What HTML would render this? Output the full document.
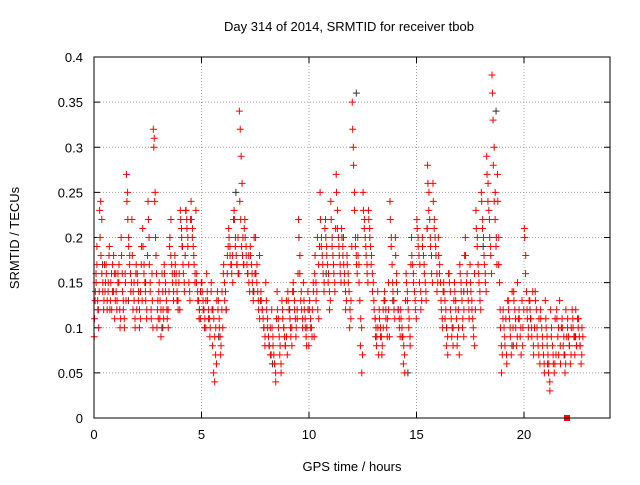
<!DOCTYPE html>
<html><head><meta charset="utf-8"><style>
body{margin:0;background:#fff}
svg text{font-family:"Liberation Sans","DejaVu Sans",sans-serif;font-size:13px;fill:#000}
</style></head><body>
<svg id="chart" width="640" height="480" viewBox="0 0 640 480" xmlns="http://www.w3.org/2000/svg">
<rect width="640" height="480" fill="#fff"/>
<text x="349" y="31" text-anchor="middle">Day 314 of 2014, SRMTID for receiver tbob</text>
<text x="352" y="471" text-anchor="middle">GPS time / hours</text>
<text transform="translate(19,238) rotate(-90)" text-anchor="middle">SRMTID / TECUs</text>
<g id="grid"></g>
<g id="ticks"></g>
<g id="darkPts"></g>
<g id="redPts"></g>
<rect x="94" y="57" width="516" height="361" fill="none" stroke="#000" stroke-width="1"/>
</svg>
<script>
const xTicks=[0,5,10,15,20];
const yTicks=[0,0.05,0.1,0.15,0.2,0.25,0.3,0.35,0.4];
const yTickLabels=["0","0.05","0.1","0.15","0.2","0.25","0.3","0.35","0.4"];
const binHours=0.25;
const redBins=[
[0.09,0.13,0.16,0.19,0.12,0.1],[0.23,0.24,0.22,0.15,0.13],[0.14,0.17,0.12,0.15,0.19],[0.13,0.16,0.14,0.18,0.11],
[0.16,0.12,0.15,0.17,0.1],[0.2,0.16,0.13,0.1,0.15],[0.27,0.25,0.2,0.18,0.14],[0.22,0.12,0.15,0.1,0.17],
[0.16,0.13,0.1,0.14,0.19],[0.21,0.17,0.14,0.12],[0.24,0.2,0.15,0.11,0.13],[0.32,0.31,0.25,0.18,0.1,0.13],
[0.14,0.11,0.09,0.16,0.12],[0.17,0.14,0.12,0.1],[0.19,0.22,0.16,0.14],[0.18,0.15,0.13,0.12,0.16],
[0.23,0.2,0.17,0.14],[0.23,0.22,0.2,0.15,0.13],[0.24,0.21,0.18,0.16],[0.15,0.13,0.11,0.14],
[0.15,0.12,0.1,0.13],[0.14,0.11,0.09,0.15],[0.08,0.05,0.04,0.1,0.13],[0.12,0.1,0.07,0.14],
[0.16,0.13,0.12,0.18],[0.21,0.18,0.17,0.15],[0.23,0.2,0.17,0.16],[0.34,0.32,0.29,0.26,0.2,0.17],
[0.22,0.18,0.16,0.15],[0.19,0.16,0.14],[0.2,0.17,0.13,0.11],[0.14,0.12,0.1,0.09],
[0.13,0.1,0.08,0.07],[0.12,0.08,0.06,0.04],[0.14,0.1,0.07,0.05],[0.12,0.1,0.08,0.09],
[0.14,0.12,0.1,0.08],[0.15,0.12,0.09,0.11],[0.22,0.18,0.14,0.11],[0.13,0.1,0.08,0.12],
[0.12,0.1,0.09,0.14],[0.16,0.13,0.2,0.11],[0.25,0.2,0.17,0.15],[0.22,0.18,0.15,0.12],
[0.24,0.2,0.17,0.14],[0.27,0.23,0.19,0.16],[0.21,0.18,0.15,0.12],[0.18,0.15,0.1,0.13],
[0.35,0.3,0.25,0.2,0.17],[0.2,0.15,0.08,0.05],[0.25,0.22,0.19,0.16],[0.23,0.2,0.17,0.14],
[0.13,0.11,0.08,0.1],[0.12,0.09,0.07,0.1],[0.14,0.11,0.09,0.12],[0.24,0.2,0.15,0.12],
[0.2,0.16,0.12,0.1],[0.12,0.09,0.06,0.05],[0.16,0.13,0.1,0.08],[0.2,0.16,0.13],
[0.22,0.19,0.15,0.12],[0.2,0.17,0.14],[0.28,0.25,0.2,0.16],[0.26,0.22,0.19,0.14],
[0.2,0.17,0.13,0.1],[0.15,0.11,0.08,0.07],[0.16,0.12,0.09,0.1],[0.15,0.12,0.08,0.1],
[0.17,0.14,0.1,0.12],[0.2,0.16,0.12],[0.15,0.12,0.1,0.08],[0.23,0.2,0.16,0.13],
[0.25,0.22,0.18,0.15],[0.29,0.26,0.22,0.18],[0.38,0.33,0.3,0.25,0.2],[0.27,0.2,0.12,0.05],
[0.11,0.09,0.07],[0.13,0.1,0.08],[0.14,0.11,0.09],[0.12,0.1,0.08],
[0.21,0.18,0.12,0.1],[0.13,0.1,0.08],[0.14,0.1,0.07],[0.12,0.09,0.06],
[0.11,0.08,0.05,0.03],[0.09,0.07,0.06],[0.12,0.1,0.08],[0.11,0.09,0.06],
[0.1,0.08,0.07],[0.11,0.09,0.08],[0.1,0.08,0.07]
];
const redBins2=[
[0.11,0.14,0.15,0.17,0.13,0.12,0.14],[0.2,0.18,0.16,0.14,0.12,0.17],[0.15,0.16,0.13,0.14,0.18,0.12],[0.15,0.12,0.17,0.14,0.16,0.13],
[0.14,0.13,0.16,0.15,0.12,0.11],[0.18,0.14,0.12,0.11,0.16,0.13],[0.24,0.22,0.19,0.17,0.16,0.15],[0.18,0.14,0.13,0.11,0.16,0.12],
[0.15,0.14,0.12,0.11,0.17,0.13],[0.19,0.16,0.15,0.13,0.11,0.18],[0.22,0.17,0.14,0.12,0.16,0.1],[0.3,0.24,0.2,0.16,0.12,0.11],
[0.15,0.13,0.12,0.1,0.14,0.11],[0.16,0.15,0.13,0.11,0.12,0.14],[0.2,0.18,0.17,0.15,0.13,0.16],[0.17,0.16,0.14,0.13,0.15,0.12],
[0.22,0.21,0.19,0.16,0.15,0.18],[0.23,0.21,0.19,0.17,0.14,0.22],[0.22,0.2,0.19,0.17,0.15,0.23],[0.16,0.14,0.13,0.12,0.11,0.15],
[0.14,0.13,0.12,0.11,0.1,0.16],[0.13,0.12,0.11,0.1,0.14,0.12],[0.12,0.11,0.09,0.07,0.06,0.14],[0.13,0.11,0.09,0.08,0.12,0.1],
[0.17,0.15,0.14,0.12,0.16,0.19],[0.2,0.19,0.17,0.16,0.18,0.22],[0.22,0.19,0.18,0.17,0.2,0.16],[0.24,0.22,0.19,0.18,0.17,0.21],
[0.2,0.19,0.17,0.16,0.18,0.14],[0.18,0.17,0.15,0.13,0.2,0.16],[0.16,0.15,0.14,0.12,0.18,0.13],[0.13,0.12,0.11,0.1,0.08,0.15],
[0.12,0.11,0.09,0.08,0.1,0.07],[0.1,0.09,0.07,0.06,0.05,0.11],[0.12,0.11,0.09,0.08,0.06,0.13],[0.11,0.1,0.09,0.08,0.13,0.07],
[0.13,0.12,0.11,0.09,0.1,0.14],[0.14,0.13,0.11,0.1,0.12,0.16],[0.2,0.16,0.13,0.12,0.1,0.15],[0.12,0.11,0.09,0.1,0.14,0.08],
[0.13,0.11,0.1,0.12,0.15,0.09],[0.18,0.15,0.14,0.12,0.17,0.19],[0.22,0.19,0.18,0.16,0.14,0.21],[0.2,0.19,0.17,0.16,0.14,0.13],
[0.22,0.19,0.18,0.16,0.15,0.21],[0.25,0.21,0.2,0.18,0.17,0.15],[0.2,0.19,0.17,0.16,0.14,0.13],[0.17,0.16,0.14,0.12,0.11,0.19],
[0.32,0.28,0.23,0.19,0.18,0.16],[0.18,0.17,0.13,0.11,0.1,0.07],[0.23,0.21,0.2,0.18,0.17,0.15],[0.22,0.21,0.19,0.18,0.16,0.15],
[0.12,0.11,0.1,0.09,0.14,0.07],[0.11,0.1,0.09,0.08,0.12,0.13],[0.13,0.12,0.1,0.11,0.15,0.09],[0.22,0.19,0.17,0.14,0.13,0.11],
[0.18,0.15,0.14,0.12,0.11,0.09],[0.11,0.1,0.09,0.08,0.07,0.13],[0.15,0.14,0.12,0.11,0.09,0.17],[0.18,0.17,0.15,0.14,0.12,0.11],
[0.21,0.2,0.18,0.17,0.14,0.13],[0.19,0.18,0.16,0.15,0.13,0.21],[0.26,0.23,0.22,0.19,0.18,0.15],[0.24,0.21,0.2,0.18,0.16,0.15],
[0.18,0.16,0.15,0.12,0.11,0.14],[0.14,0.13,0.12,0.1,0.09,0.16],[0.15,0.14,0.11,0.1,0.08,0.13],[0.14,0.13,0.11,0.09,0.12,0.07],
[0.16,0.15,0.13,0.11,0.09,0.18],[0.18,0.15,0.14,0.13,0.11,0.17],[0.14,0.13,0.11,0.09,0.16,0.12],[0.21,0.19,0.17,0.15,0.14,0.12],
[0.24,0.21,0.2,0.17,0.16,0.14],[0.27,0.24,0.23,0.2,0.19,0.16],[0.36,0.28,0.24,0.22,0.19,0.17],[0.24,0.17,0.15,0.1,0.08,0.07],
[0.12,0.1,0.08,0.11,0.06,0.13],[0.12,0.11,0.09,0.07,0.14,0.1],[0.13,0.12,0.1,0.08,0.15,0.11],[0.11,0.09,0.07,0.13,0.1,0.12],
[0.2,0.16,0.14,0.11,0.09,0.13],[0.12,0.11,0.09,0.14,0.07,0.1],[0.13,0.12,0.09,0.08,0.11,0.06],[0.11,0.1,0.08,0.07,0.05,0.13],
[0.1,0.09,0.07,0.06,0.04,0.12],[0.1,0.08,0.06,0.05,0.11,0.07],[0.11,0.09,0.07,0.13,0.06,0.1],[0.1,0.08,0.07,0.05,0.12,0.09],
[0.11,0.09,0.08,0.06,0.1,0.12],[0.1,0.09,0.07,0.12,0.08,0.11],[0.11,0.09,0.08,0.06,0.1,0.09]
];
const darkTimes=[0.4,1.6,2.4,3.2,4.1,4.9,5.8,6.6,7.4,8.3,9.1,9.9,10.8,11.6,12.2,13.1,13.9,14.6,15.5,16.4,17.2,18.1,18.7,19.5,20.3,21.1,21.9,22.4];
const darkVals=[0.17,0.13,0.15,0.1,0.19,0.12,0.09,0.25,0.14,0.06,0.12,0.1,0.16,0.2,0.36,0.09,0.13,0.05,0.21,0.1,0.14,0.19,0.34,0.08,0.11,0.06,0.07,0.09];
const squareTimes=[22.0];
const squareVals=[0];

const X0=94,X1=610,Y0=418,Y1=57,XMAX=24,YMAX=0.4;
const xs=t=>X0+t/XMAX*(X1-X0);
const ys=v=>Y0-v/YMAX*(Y0-Y1);
const NS="http://www.w3.org/2000/svg";
function mk(tag,parent,attrs){const e=document.createElementNS(NS,tag);for(const k in attrs)e.setAttribute(k,attrs[k]);parent.appendChild(e);return e;}
const grid=document.getElementById('grid'),ticks=document.getElementById('ticks');
xTicks.forEach(t=>{const x=xs(t);
 if(t>0){const g=mk('line',grid,{x1:x,x2:x,y1:Y1,y2:Y0,stroke:'#a0a0a0','stroke-dasharray':'1,2'});
 
 }
 mk('line',ticks,{x1:x,x2:x,y1:Y0,y2:Y0-6,stroke:'#000'});
 mk('line',ticks,{x1:x,x2:x,y1:Y1,y2:Y1+6,stroke:'#000'});
 const l=mk('text',ticks,{x:x,y:Y0+21,'text-anchor':'middle'});l.textContent=t;
 
 
});
yTicks.forEach((v,i)=>{const y=ys(v);
 if(i>0&&i<yTicks.length-1){const g=mk('line',grid,{x1:X0,x2:X1,y1:y,y2:y,stroke:'#a0a0a0','stroke-dasharray':'1,2'});
 
 }
 mk('line',ticks,{x1:X0,x2:X0+6,y1:y,y2:y,stroke:'#000'});
 mk('line',ticks,{x1:X1,x2:X1-6,y1:y,y2:y,stroke:'#000'});
 const l=mk('text',ticks,{x:X0-11,y:y+5,'text-anchor':'end'});l.textContent=yTickLabels[i];
 
 
});
function plus(parent,t,v,col){const x=xs(t),y=ys(v);
 return mk('path',parent,{d:`M${x-3.5},${y}H${x+3.5}M${x},${y-3.5}V${y+3.5}`,stroke:col,'stroke-width':1,fill:'none'});}
const dg=document.getElementById('darkPts');
darkTimes.forEach((t,i)=>{const p=plus(dg,t,darkVals[i],'#303030');
 
 });
const rg=document.getElementById('redPts');
[redBins,redBins2].forEach((bins,k)=>{
 bins.forEach((bin,i)=>{bin.forEach((v,j)=>{const t=i*binHours+(j+0.25+0.5*k)*binHours/bin.length;
  const p=plus(rg,t,v,'#ff0000');
  
  });});
});
squareTimes.forEach((t,i)=>{const s=mk('rect',rg,{x:xs(t)-3,y:ys(squareVals[i])-3,width:6,height:6,fill:'#ff0000'});
 
 });
</script>
</body></html>
